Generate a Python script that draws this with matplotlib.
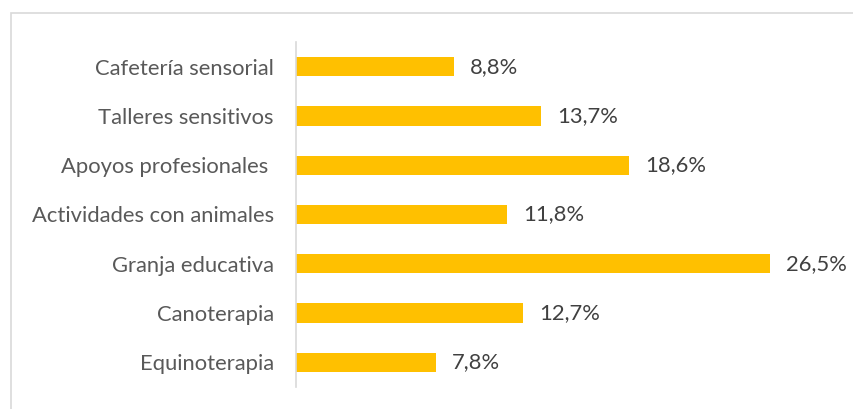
import matplotlib.pyplot as plt
from matplotlib.patches import Rectangle

# Data
categorias = ['Cafetería sensorial', 'Talleres sensitivos', 'Apoyos profesionales ',
              'Actividades con animales', 'Granja educativa', 'Canoterapia', 'Equinoterapia']
porcentajes = [8.8, 13.7, 18.6, 11.8, 26.5, 12.7, 7.8]
etiquetas = ['8,8%', '13,7%', '18,6%', '11,8%', '26,5%', '12,7%', '7,8%']

plt.rcParams['font.family'] = ['Lato', 'DejaVu Sans']

fig = plt.figure(figsize=(8.54, 4.09), dpi=100)
# outer chart border (only left/top visible in the crop)
fig.patches.append(Rectangle((11 / 854, -0.1), 1.2, (409 - 13) / 409 + 0.1,
                             transform=fig.transFigure, fill=False,
                             edgecolor='#d9d9d9', linewidth=1.2))

ax = fig.add_axes([296 / 854, 22 / 409, 537 / 854, 345 / 409])
y = list(range(len(categorias)))[::-1]
ax.barh(y, porcentajes, height=0.39, color='#ffc000')
for yi, v, t in zip(y, porcentajes, etiquetas):
    ax.text(v + 0.9, yi, t, va='center', ha='left', fontsize=15.8, color='#404040')

ax.set_xlim(0, 30)
ax.set_ylim(-0.5, len(categorias) - 0.5)
ax.set_yticks(y)
ax.set_yticklabels(categorias, fontsize=15.8, color='#595959')
ax.tick_params(axis='y', length=0, pad=16)
ax.set_xticks([])
for s in ['top', 'right', 'bottom']:
    ax.spines[s].set_visible(False)
ax.spines['left'].set_color('#d9d9d9')
ax.spines['left'].set_linewidth(1.2)

fig.savefig('out.png', dpi=100)
